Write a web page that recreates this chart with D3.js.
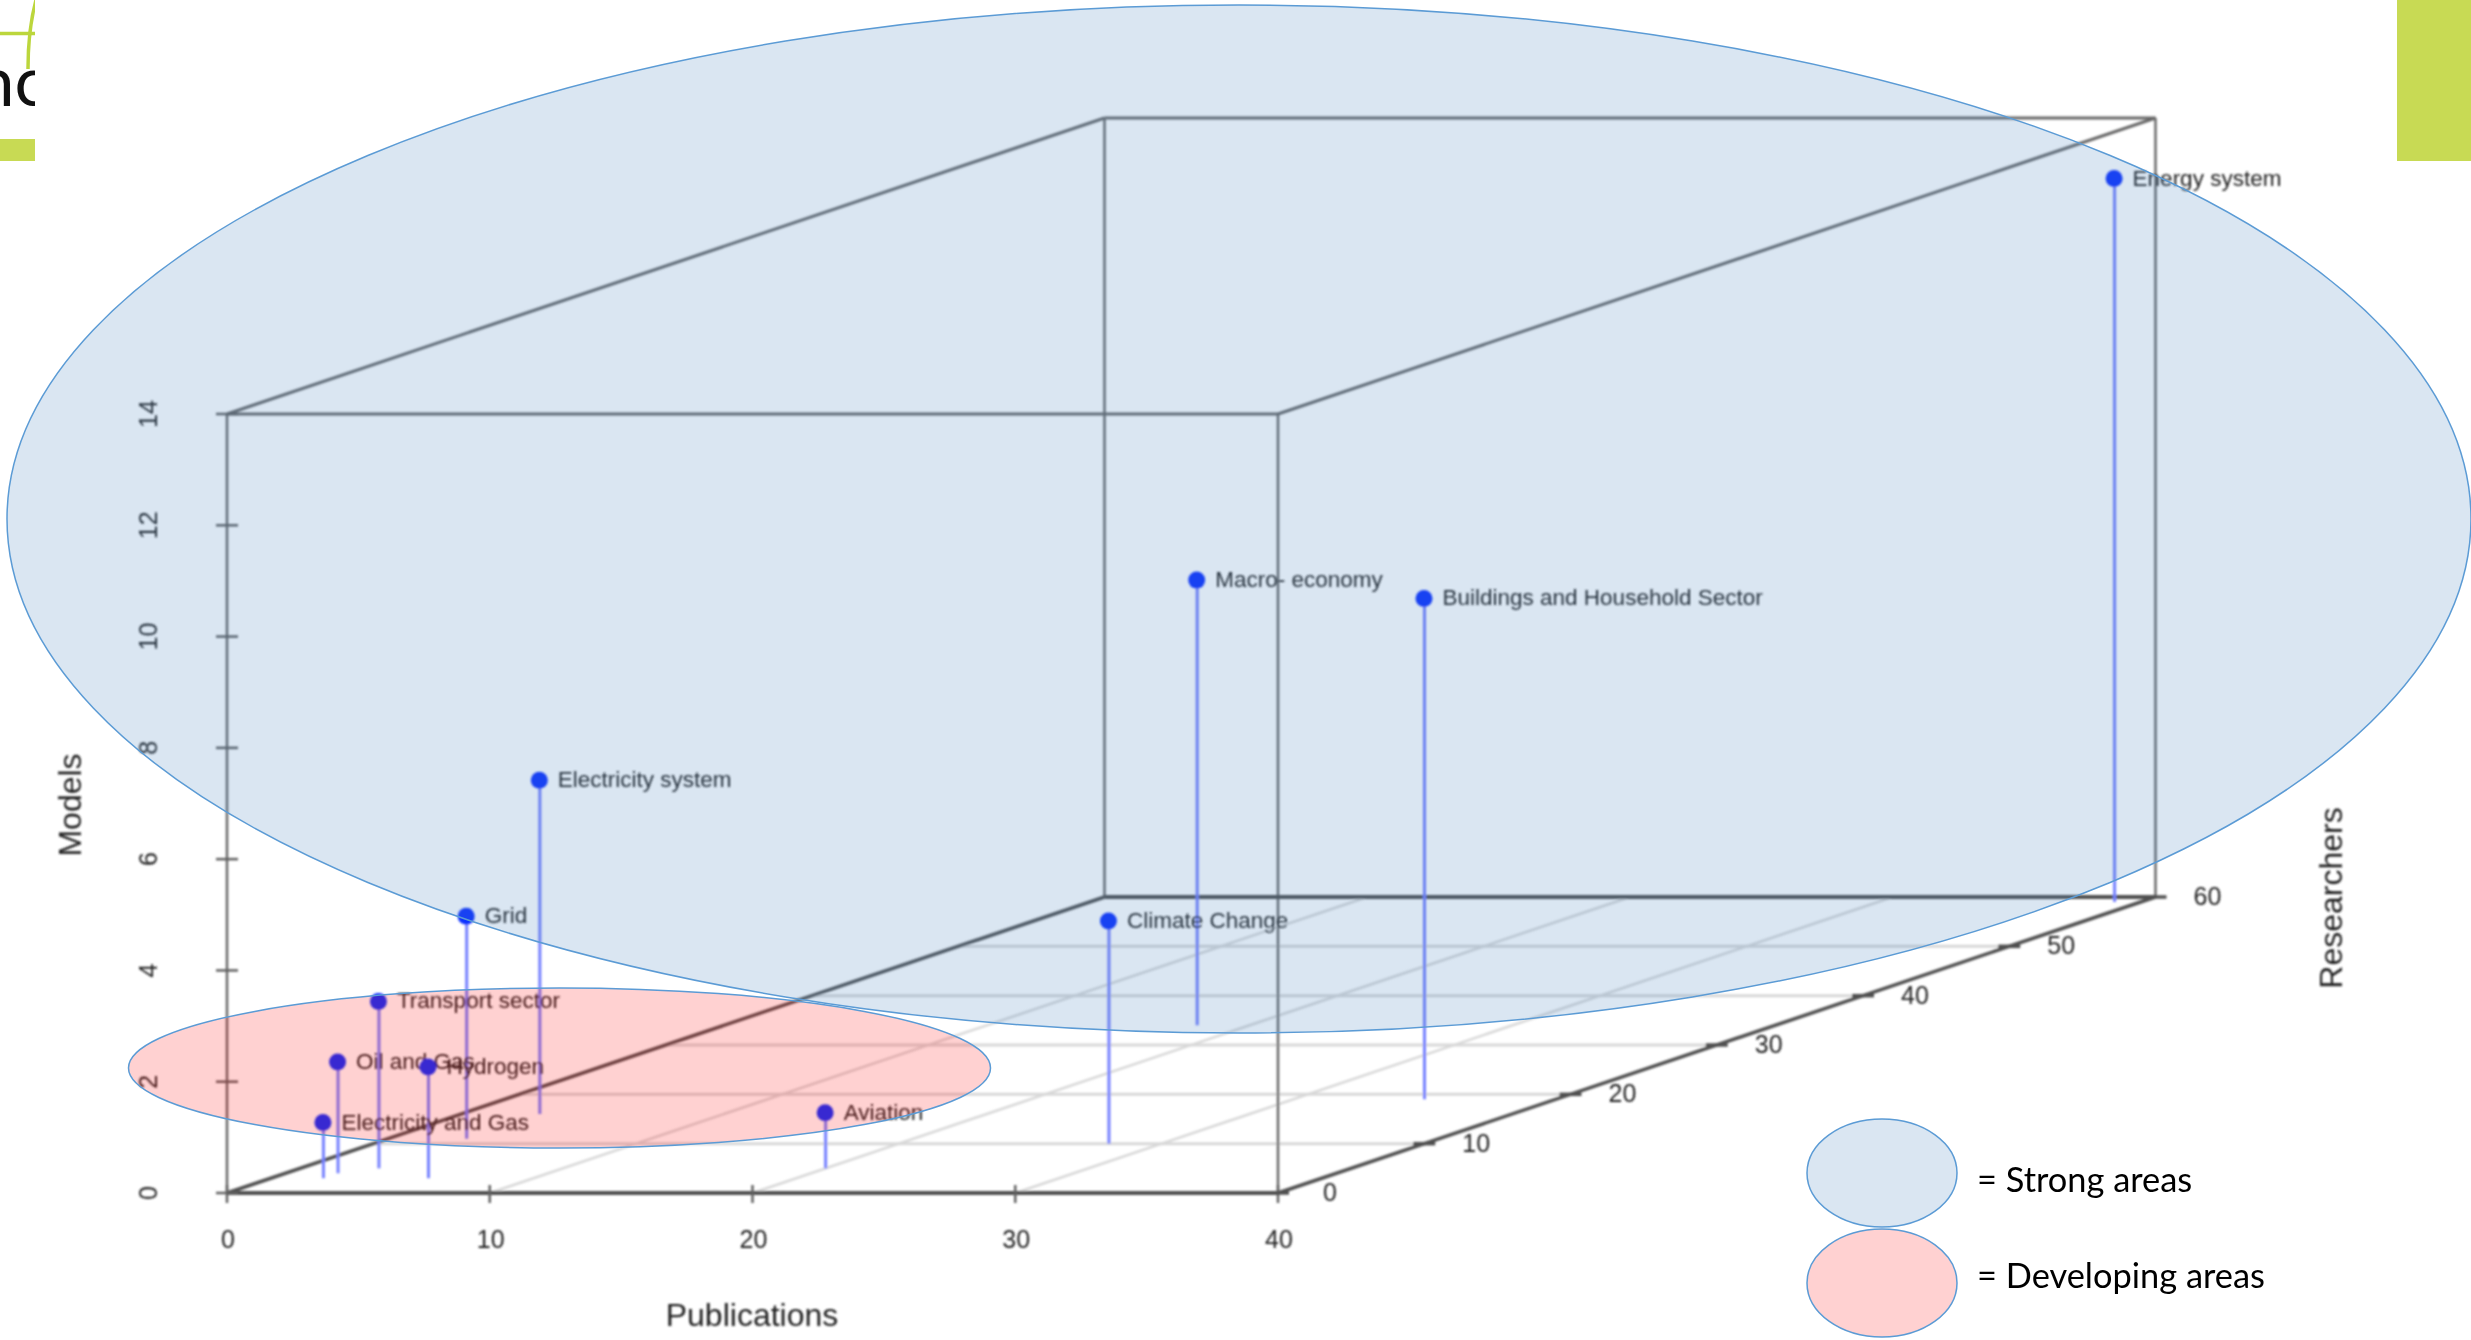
<!DOCTYPE html>
<html>
<head>
<meta charset="utf-8">
<script src="https://cdnjs.cloudflare.com/ajax/libs/d3/7.8.5/d3.min.js"></script>
<style>
  html, body { margin: 0; padding: 0; background: #fff; }
  svg { display: block; }
  text { font-family: "Liberation Sans", Arial, sans-serif; fill: #222; }
  .legend text { font-family: Lato, sans-serif; fill: #000; }
</style>
</head>
<body>
<svg id="chart" width="2471" height="1340"></svg>
<script>
var names = ["Energy system", "Macro- economy", "Buildings and Household Sector", "Climate Change",
  "Electricity system", "Grid", "Transport sector", "Oil and Gas", "Hydrogen", "Electricity and Gas", "Aviation"];
var publications = [39, 18, 35, 28, 3, 3, 3, 2, 6, 2, 20];
var researchers = [59, 34, 19, 10, 16, 11, 5, 4, 3, 3, 5];
var models = [13, 8, 9, 4, 6, 4, 3, 2, 2, 1, 1];

var publicationTicks = [0, 10, 20, 30, 40];
var researcherTicks = [0, 10, 20, 30, 40, 50, 60];
var modelTicks = [0, 2, 4, 6, 8, 10, 12, 14];

var svg = d3.select("#chart");

var defs = svg.append("defs");
defs.append("filter").attr("id", "soft").
  attr("x", "-5%").attr("y", "-5%").attr("width", "110%").attr("height", "110%").
  append("feGaussianBlur").attr("stdDeviation", 0.9);
defs.append("clipPath").attr("id", "logoClip").append("rect").
  attr("x", 0).attr("y", 0).attr("width", 35).attr("height", 165);

var xScale = d3.scaleLinear().domain([0, 40]).range([227, 1278]);
var zScale = d3.scaleLinear().domain([0, 14]).range([1193, 414]);
var depthX = d3.scaleLinear().domain([0, 60]).range([0, 877.5]);
var depthY = d3.scaleLinear().domain([0, 60]).range([0, 296]);

// oblique projection, same as scatterplot3d
var project = function(x, r, z) {
  return [xScale(x) + depthX(r), zScale(z) - depthY(r)];
};

var chart = svg.append("g").attr("filter", "url(#soft)");

var seg = function(a, b, color, w) {
  chart.append("line").
    attr("x1", a[0]).attr("y1", a[1]).
    attr("x2", b[0]).attr("y2", b[1]).
    attr("stroke", color).
    attr("stroke-width", w);
};

// floor grid
publicationTicks.slice(1, -1).forEach(function(t) {
  seg(project(t, 0, 0), project(t, 60, 0), "#d8d8d8", 2.5);
});
researcherTicks.slice(1, -1).forEach(function(t) {
  seg(project(0, t, 0), project(40, t, 0), "#d8d8d8", 3);
});

// box
var xMax = 40, rMax = 60, zMax = 14;
seg(project(0, 0, 0), project(0, 0, zMax), "#686868", 2.5);
seg(project(xMax, 0, 0), project(xMax, 0, zMax), "#686868", 2.5);
seg(project(0, rMax, 0), project(0, rMax, zMax), "#686868", 2.5);
seg(project(xMax, rMax, 0), project(xMax, rMax, zMax), "#686868", 2.5);
seg(project(0, 0, zMax), project(xMax, 0, zMax), "#686868", 3);
seg(project(0, rMax, zMax), project(xMax, rMax, zMax), "#686868", 3);
seg(project(0, 0, zMax), project(0, rMax, zMax), "#686868", 3);
seg(project(xMax, 0, zMax), project(xMax, rMax, zMax), "#686868", 3);
seg(project(0, 0, 0), project(xMax, 0, 0), "#505050", 4);
seg(project(0, rMax, 0), project(xMax, rMax, 0), "#505050", 4);
seg(project(0, 0, 0), project(0, rMax, 0), "#505050", 3.5);
seg(project(xMax, 0, 0), project(xMax, rMax, 0), "#505050", 3.5);

// ticks and tick labels
publicationTicks.forEach(function(t) {
  var p = project(t, 0, 0);
  seg([p[0], p[1] - 8], [p[0], p[1] + 10], "#606060", 2.5);
  chart.append("text").
    attr("x", p[0] + 1).attr("y", p[1] + 55).
    attr("text-anchor", "middle").attr("font-size", 25).
    text(t);
});
researcherTicks.forEach(function(t) {
  var p = project(xMax, t, 0);
  seg([p[0] - 11, p[1]], [p[0] + 11, p[1]], "#505050", 3.5);
  chart.append("text").
    attr("x", p[0] + 52).attr("y", p[1] + 8).
    attr("text-anchor", "middle").attr("font-size", 25).
    text(t);
});
modelTicks.forEach(function(t) {
  var p = project(0, 0, t);
  seg([p[0] - 11, p[1]], [p[0] + 11, p[1]], "#606060", 2.5);
  chart.append("text").
    attr("transform", "translate(" + (p[0] - 70) + "," + p[1] + ") rotate(-90)").
    attr("text-anchor", "middle").attr("font-size", 25).
    text(t);
});

// axis titles
chart.append("text").
  attr("x", 752).attr("y", 1326).
  attr("text-anchor", "middle").attr("font-size", 32).
  text("Publications");
chart.append("text").
  attr("transform", "translate(81,805) rotate(-90)").
  attr("text-anchor", "middle").attr("font-size", 32).
  text("Models");
chart.append("text").
  attr("transform", "translate(2342,898) rotate(-90)").
  attr("text-anchor", "middle").attr("font-size", 32).
  text("Researchers");

// stems, points, labels
names.forEach(function(name, i) {
  var foot = project(publications[i], researchers[i], 0);
  var top = project(publications[i], researchers[i], models[i]);
  seg(foot, top, "#7480ff", 3);
  chart.append("circle").
    attr("cx", top[0] - 0.5).attr("cy", top[1]).attr("r", 8.5).
    attr("fill", "#1133ff");
  chart.append("text").
    attr("x", top[0] + 18).attr("y", top[1] + 7).
    attr("font-size", 22.5).
    text(name);
});

// logo scraps from the slide
svg.append("rect").attr("x", 0).attr("y", 139).attr("width", 35).attr("height", 22).attr("fill", "#c8da54");
svg.append("rect").attr("x", 2397).attr("y", 0).attr("width", 74).attr("height", 161).attr("fill", "#c8da54");
var logo = svg.append("g").attr("clip-path", "url(#logoClip)");
logo.append("path").
  attr("d", "M36,0 C30,22 28,45 28,69").
  attr("fill", "none").attr("stroke", "#bcd63c").attr("stroke-width", 3.5);
logo.append("line").
  attr("x1", 0).attr("y1", 33.5).attr("x2", 35).attr("y2", 33.5).
  attr("stroke", "#bcd63c").attr("stroke-width", 3.5);
logo.append("text").
  attr("x", -24).attr("y", 106).
  attr("font-size", 69).attr("style", "font-family:Lato,sans-serif;fill:#111").
  text("nc");

// highlight areas go over the chart, semi transparent
var outline = "#5b9bd5";
svg.append("ellipse").
  attr("cx", 1239).attr("cy", 519).attr("rx", 1232).attr("ry", 514).
  attr("fill", "rgb(70,130,190)").attr("fill-opacity", 0.2).
  attr("stroke", outline).attr("stroke-width", 1.5);
svg.append("ellipse").
  attr("cx", 559.5).attr("cy", 1068).attr("rx", 431).attr("ry", 80).
  attr("fill", "rgb(255,0,0)").attr("fill-opacity", 0.18).
  attr("stroke", outline).attr("stroke-width", 1.5);

// legend
var legendLabels = ["= Strong areas", "= Developing areas"];
var legendLabelY = [1192, 1288];
var legendFills = ["#dae6f2", "#ffd1d1"];
var legendY = [1173, 1283];
var legend = svg.append("g").attr("class", "legend");
legendLabels.forEach(function(label, i) {
  legend.append("ellipse").
    attr("cx", 1882).attr("cy", legendY[i]).attr("rx", 75).attr("ry", 54).
    attr("fill", legendFills[i]).
    attr("stroke", outline).attr("stroke-width", 1.5);
  legend.append("text").
    attr("x", 1977).attr("y", legendLabelY[i]).
    attr("font-size", 34.4).
    text(label);
});
</script>
</body>
</html>
